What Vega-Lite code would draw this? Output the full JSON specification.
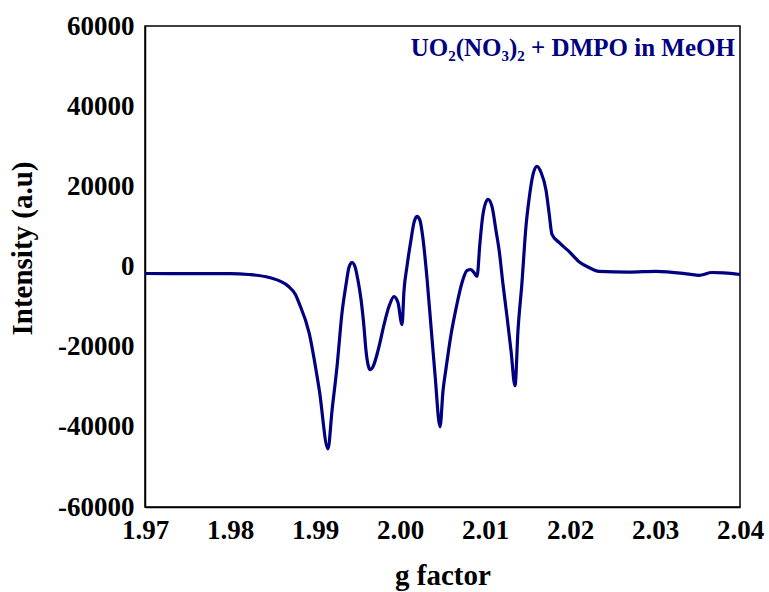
{
  "$schema": "https://vega.github.io/schema/vega-lite/v6.json",
  "width": 595,
  "height": 481,
  "autosize": {"type": "none"},
  "padding": {"left": 145, "top": 26, "right": 29, "bottom": 85},
  "background": "white",
  "config": {
    "view": {"stroke": "black", "strokeWidth": 1.5},
    "font": "Times New Roman",
    "axis": {
      "grid": false, "ticks": false, "domainColor": "black", "domainWidth": 1.5,
      "labelFont": "Times New Roman", "labelFontSize": 27, "labelFontWeight": "bold", "labelColor": "black",
      "titleFont": "Times New Roman", "titleFontSize": 29, "titleFontWeight": "bold", "titleColor": "black",
      "labelFlush": false, "labelOverlap": false, "labelBound": false
    }
  },
  "datasets": {
    "epr": [
      {"g": 1.970, "I": -1750}, {"g": 1.975, "I": -1800}, {"g": 1.980, "I": -1800},
      {"g": 1.9822, "I": -2000}, {"g": 1.9846, "I": -2750}, {"g": 1.9869, "I": -5000},
      {"g": 1.9877, "I": -7000}, {"g": 1.9881, "I": -9000}, {"g": 1.9893, "I": -16500},
      {"g": 1.9905, "I": -30750}, {"g": 1.99153, "I": -45500}, {"g": 1.992, "I": -36000},
      {"g": 1.99259, "I": -25000}, {"g": 1.99318, "I": -11500}, {"g": 1.99365, "I": -4500},
      {"g": 1.994, "I": -200}, {"g": 1.99435, "I": 1000}, {"g": 1.9947, "I": 0},
      {"g": 1.99506, "I": -3500}, {"g": 1.9954, "I": -8000}, {"g": 1.99576, "I": -15000},
      {"g": 1.996, "I": -21000}, {"g": 1.99624, "I": -24500}, {"g": 1.99647, "I": -25750},
      {"g": 1.99682, "I": -25000}, {"g": 1.99753, "I": -20000}, {"g": 1.99812, "I": -14500},
      {"g": 1.9987, "I": -10000}, {"g": 1.99929, "I": -7500}, {"g": 1.99976, "I": -9000},
      {"g": 2.00024, "I": -14500}, {"g": 2.00047, "I": -6000}, {"g": 2.00082, "I": 0},
      {"g": 2.0013, "I": 6750}, {"g": 2.00165, "I": 11000}, {"g": 2.002, "I": 12500},
      {"g": 2.00235, "I": 11500}, {"g": 2.0027, "I": 7000}, {"g": 2.00318, "I": -3000},
      {"g": 2.00365, "I": -15000}, {"g": 2.00412, "I": -27000}, {"g": 2.00471, "I": -40000},
      {"g": 2.00506, "I": -31000}, {"g": 2.00541, "I": -25500}, {"g": 2.006, "I": -17000},
      {"g": 2.00659, "I": -10500}, {"g": 2.0073, "I": -4000}, {"g": 2.00788, "I": -1000},
      {"g": 2.00835, "I": -750}, {"g": 2.0087, "I": -1500}, {"g": 2.00906, "I": -2500},
      {"g": 2.00941, "I": 6000}, {"g": 2.00976, "I": 13000}, {"g": 2.01035, "I": 16750},
      {"g": 2.01082, "I": 15000}, {"g": 2.01129, "I": 9000}, {"g": 2.01165, "I": 4250},
      {"g": 2.01212, "I": -4500}, {"g": 2.01259, "I": -12500}, {"g": 2.01306, "I": -21000},
      {"g": 2.01353, "I": -29750}, {"g": 2.01388, "I": -16000}, {"g": 2.01435, "I": -4000},
      {"g": 2.01482, "I": 10000}, {"g": 2.01518, "I": 16750}, {"g": 2.01565, "I": 23000},
      {"g": 2.01612, "I": 25000}, {"g": 2.01659, "I": 23500}, {"g": 2.01718, "I": 19000},
      {"g": 2.01753, "I": 13500}, {"g": 2.01788, "I": 8000}, {"g": 2.01871, "I": 6000},
      {"g": 2.01988, "I": 3750}, {"g": 2.02106, "I": 1200}, {"g": 2.02224, "I": -250},
      {"g": 2.02341, "I": -1200}, {"g": 2.02694, "I": -1400}, {"g": 2.03012, "I": -1200},
      {"g": 2.034, "I": -1900}, {"g": 2.03518, "I": -2200}, {"g": 2.0367, "I": -1500},
      {"g": 2.0381, "I": -1600}, {"g": 2.040, "I": -2000}
    ],
    "label": [{"g": 2.0394, "I": 54500, "t": "UO₂(NO₃)₂ + DMPO in MeOH"}]
  },
  "layer": [
    {
      "data": {"name": "epr"},
      "mark": {"type": "line", "color": "#000080", "strokeWidth": 3.2, "interpolate": "monotone", "clip": true},
      "encoding": {
        "x": {
          "field": "g", "type": "quantitative",
          "scale": {"domain": [1.97, 2.04], "nice": false, "zero": false},
          "axis": {"values": [1.97, 1.98, 1.99, 2.0, 2.01, 2.02, 2.03, 2.04], "format": ".2f", "title": "g factor", "labelPadding": 10, "titlePadding": 18}
        },
        "y": {
          "field": "I", "type": "quantitative",
          "scale": {"domain": [-60000, 60000], "nice": false},
          "axis": {"values": [-60000, -40000, -20000, 0, 20000, 40000, 60000], "labelExpr": "datum.value + ''", "title": "Intensity (a.u)", "labelPadding": 11, "titleX": -108, "titleY": 222}
        }
      }
    },
    {
      "data": {"name": "label"},
      "mark": {"type": "text", "align": "right", "baseline": "middle", "font": "Times New Roman", "fontSize": 25, "fontWeight": "bold", "color": "#000080"},
      "encoding": {
        "x": {"field": "g", "type": "quantitative"},
        "y": {"field": "I", "type": "quantitative"},
        "text": {"field": "t"}
      }
    }
  ]
}
